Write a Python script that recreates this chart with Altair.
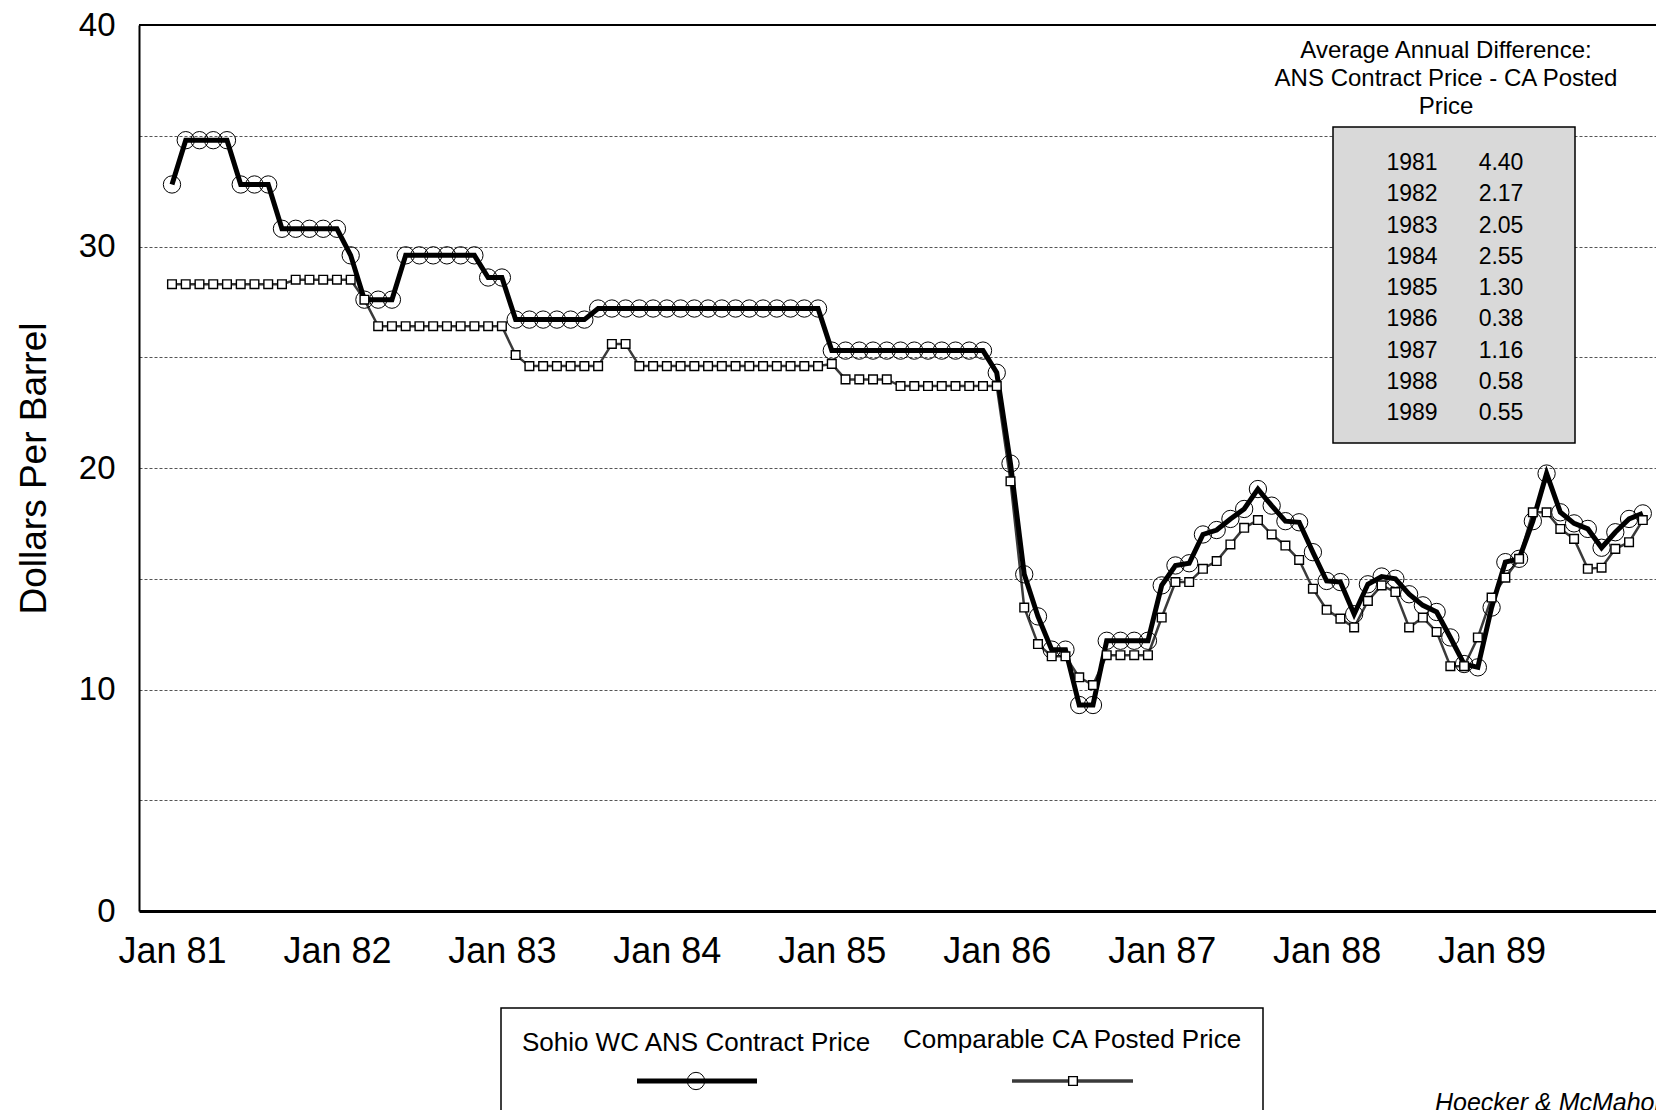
import altair as alt
import pandas as pd

# ---------------- data ----------------
tick_labels = ["Jan 81", "Jan 82", "Jan 83", "Jan 84", "Jan 85",
               "Jan 86", "Jan 87", "Jan 88", "Jan 89"]

legend_labels = ["Sohio WC ANS Contract Price", "Comparable CA Posted Price"]

# monthly, Jan 1981 .. Dec 1989
ans_price = [
    32.8, 34.8, 34.8, 34.8, 34.8, 32.8, 32.8, 32.8, 30.8, 30.8, 30.8, 30.8,    # 1981
    30.8, 29.6, 27.6, 27.6, 27.6, 29.6, 29.6, 29.6, 29.6, 29.6, 29.6, 28.6,    # 1982
    28.6, 26.7, 26.7, 26.7, 26.7, 26.7, 26.7, 27.2, 27.2, 27.2, 27.2, 27.2,    # 1983
    27.2, 27.2, 27.2, 27.2, 27.2, 27.2, 27.2, 27.2, 27.2, 27.2, 27.2, 27.2,    # 1984
    25.3, 25.3, 25.3, 25.3, 25.3, 25.3, 25.3, 25.3, 25.3, 25.3, 25.3, 25.3,    # 1985
    24.3, 20.2, 15.2, 13.3, 11.8, 11.8, 9.3, 9.3, 12.2, 12.2, 12.2, 12.2,      # 1986
    14.7, 15.6, 15.7, 17.0, 17.2, 17.7, 18.15, 19.05, 18.3, 17.6, 17.55, 16.2, # 1987
    14.9, 14.85, 13.4, 14.75, 15.1, 15.0, 14.3, 13.8, 13.5, 12.35, 11.15, 11.0,# 1988
    13.7, 15.75, 15.9, 17.6, 19.75, 18.0, 17.5, 17.25, 16.4, 17.1, 17.7, 17.95,# 1989
]

posted_price = [
    28.3, 28.3, 28.3, 28.3, 28.3, 28.3, 28.3, 28.3, 28.3, 28.5, 28.5, 28.5,    # 1981
    28.5, 28.5, 27.6, 26.4, 26.4, 26.4, 26.4, 26.4, 26.4, 26.4, 26.4, 26.4,    # 1982
    26.4, 25.1, 24.6, 24.6, 24.6, 24.6, 24.6, 24.6, 25.6, 25.6, 24.6, 24.6,    # 1983
    24.6, 24.6, 24.6, 24.6, 24.6, 24.6, 24.6, 24.6, 24.6, 24.6, 24.6, 24.6,    # 1984
    24.7, 24.0, 24.0, 24.0, 24.0, 23.7, 23.7, 23.7, 23.7, 23.7, 23.7, 23.7,    # 1985
    23.7, 19.4, 13.7, 12.05, 11.5, 11.5, 10.55, 10.2, 11.55, 11.55, 11.55, 11.55,  # 1986
    13.25, 14.85, 14.85, 15.45, 15.8, 16.55, 17.3, 17.65, 17.0, 16.5, 15.85, 14.55, # 1987
    13.6, 13.2, 12.8, 14.0, 14.7, 14.4, 12.8, 13.25, 12.6, 11.05, 11.05, 12.35,     # 1988
    14.15, 15.05, 15.9, 18.0, 18.0, 17.25, 16.8, 15.45, 15.5, 16.35, 16.65, 17.65,  # 1989
]

note_lines = ["Average Annual Difference:", "ANS Contract Price - CA Posted", "Price"]
diff_years = ["1981", "1982", "1983", "1984", "1985", "1986", "1987", "1988", "1989"]
diff_values = ["4.40", "2.17", "2.05", "2.55", "1.30", "0.38", "1.16", "0.58", "0.55"]
credit = "Hoecker & McMahon"

# ---------------- table ----------------
n = len(ans_price)
months = list(range(n))
df = pd.DataFrame({
    "month": months + months,
    "price": ans_price + posted_price,
    "series": [legend_labels[0]] * n + [legend_labels[1]] * n,
})
one = alt.Data(values=[{"k": 0}])

# ---------------- geometry ----------------
W, H = 1517, 886
X_DOMAIN = [-2.4, 107.96]
SANS = "Liberation Sans"

label_expr = "[" + ",".join(f"'{t}'" for t in tick_labels) + "][round(datum.value / 12)]"

x_enc = alt.X(
    "month:Q",
    scale=alt.Scale(domain=X_DOMAIN, nice=False, zero=False),
    axis=alt.Axis(
        values=[12 * i for i in range(len(tick_labels))],
        labelExpr=label_expr, title=None, grid=False, ticks=False, tickSize=0,
        domainColor="black", domainWidth=3,
        labelFont=SANS, labelFontSize=36, labelColor="black",
        labelPadding=23, labelFlush=False, labelOverlap=False,
    ),
)
y_enc = alt.Y(
    "price:Q",
    scale=alt.Scale(domain=[0, 40], nice=False, zero=True),
    axis=alt.Axis(
        values=list(range(0, 45, 5)),
        labelExpr="datum.value % 10 == 0 ? datum.label : ''",
        title="Dollars Per Barrel",
        grid=True, gridColor="#555555", gridDash=[3, 2], gridWidth=1,
        ticks=False, tickSize=0, domainColor="black", domainWidth=2,
        labelFont=SANS, labelFontSize=33, labelColor="black",
        labelPadding=24, labelFlush=False,
        titleFont=SANS, titleFontSize=37, titleFontWeight="normal",
        titleColor="black", titleAngle=-90, titleAlign="center",
        titleBaseline="alphabetic", titleX=-94, titleY=H / 2,
    ),
)

base = alt.Chart(df)

posted_line = base.transform_filter(
    alt.datum.series == legend_labels[1]
).mark_line(color="#3a3a3a", strokeWidth=2.5).encode(x=x_enc, y=y_enc)

ans_line = base.transform_filter(
    alt.datum.series == legend_labels[0]
).mark_line(color="black", strokeWidth=5).encode(x=x_enc, y=y_enc)

ans_pts = base.transform_filter(
    alt.datum.series == legend_labels[0]
).mark_point(shape="circle", filled=False, size=300, stroke="black",
             strokeWidth=1, opacity=1).encode(x=x_enc, y=y_enc)

posted_pts = base.transform_filter(
    alt.datum.series == legend_labels[1]
).mark_point(shape="square", filled=True, fill="white", stroke="black",
             strokeWidth=1.4, size=75, opacity=1).encode(x=x_enc, y=y_enc)

# frame top border
top_border = alt.Chart(one).mark_rule(color="black", strokeWidth=2).encode(
    x=alt.value(0), x2=alt.value(W), y=alt.value(0))

# annotation (top right)
note_text = alt.Chart(one).mark_text(
    font=SANS, fontSize=24, color="black", align="center",
    baseline="alphabetic", lineBreak="\n", lineHeight=28,
).encode(x=alt.value(1307), y=alt.value(33), text=alt.value("\n".join(note_lines)))

table_box = alt.Chart(one).mark_rect(
    fill="#d9d9d9", stroke="black", strokeWidth=1.5).encode(
    x=alt.value(1194), x2=alt.value(1436), y=alt.value(102), y2=alt.value(418))

table_years = alt.Chart(one).mark_text(
    font=SANS, fontSize=23, color="black", align="center",
    baseline="alphabetic", lineBreak="\n", lineHeight=31.25,
).encode(x=alt.value(1273), y=alt.value(145), text=alt.value("\n".join(diff_years)))

table_vals = alt.Chart(one).mark_text(
    font=SANS, fontSize=23, color="black", align="center",
    baseline="alphabetic", lineBreak="\n", lineHeight=31.25,
).encode(x=alt.value(1362), y=alt.value(145), text=alt.value("\n".join(diff_values)))

# legend (bottom)
legend_box = alt.Chart(one).mark_rect(
    fillOpacity=0, stroke="black", strokeWidth=1.5).encode(
    x=alt.value(362), x2=alt.value(1124), y=alt.value(983), y2=alt.value(1130))

leg_text1 = alt.Chart(one).mark_text(
    font=SANS, fontSize=26, color="black", align="center", baseline="alphabetic"
).encode(x=alt.value(557), y=alt.value(1026), text=alt.value(legend_labels[0]))
leg_text2 = alt.Chart(one).mark_text(
    font=SANS, fontSize=26, color="black", align="center", baseline="alphabetic"
).encode(x=alt.value(933), y=alt.value(1023), text=alt.value(legend_labels[1]))

leg_line1 = alt.Chart(one).mark_rule(color="black", strokeWidth=5).encode(
    x=alt.value(498), x2=alt.value(618), y=alt.value(1056))
leg_pt1 = alt.Chart(one).mark_point(
    shape="circle", filled=False, size=300, stroke="black", strokeWidth=1, opacity=1
).encode(x=alt.value(557), y=alt.value(1056))
leg_line2 = alt.Chart(one).mark_rule(color="#3a3a3a", strokeWidth=3.5).encode(
    x=alt.value(873), x2=alt.value(994), y=alt.value(1056))
leg_pt2 = alt.Chart(one).mark_point(
    shape="square", filled=True, fill="white", stroke="black", strokeWidth=1.4,
    size=75, opacity=1
).encode(x=alt.value(934), y=alt.value(1056))

credit_text = alt.Chart(one).mark_text(
    font=SANS, fontSize=25, fontStyle="italic", color="black", align="left",
    baseline="top"
).encode(x=alt.value(1296), y=alt.value(1066), text=alt.value(credit))

chart = alt.layer(
    posted_line, ans_line, ans_pts, posted_pts, top_border,
    note_text, table_box, table_years, table_vals,
    legend_box, leg_text1, leg_text2, leg_line1, leg_pt1, leg_line2, leg_pt2,
    credit_text,
).properties(
    width=W, height=H,
    autosize=alt.AutoSizeParams(type="none"),
    padding={"left": 131, "top": 17, "right": 0, "bottom": 199},
    background="white",
).configure_view(stroke=None)

chart.save("out.html", embed_options={"renderer": "svg", "actions": False})
